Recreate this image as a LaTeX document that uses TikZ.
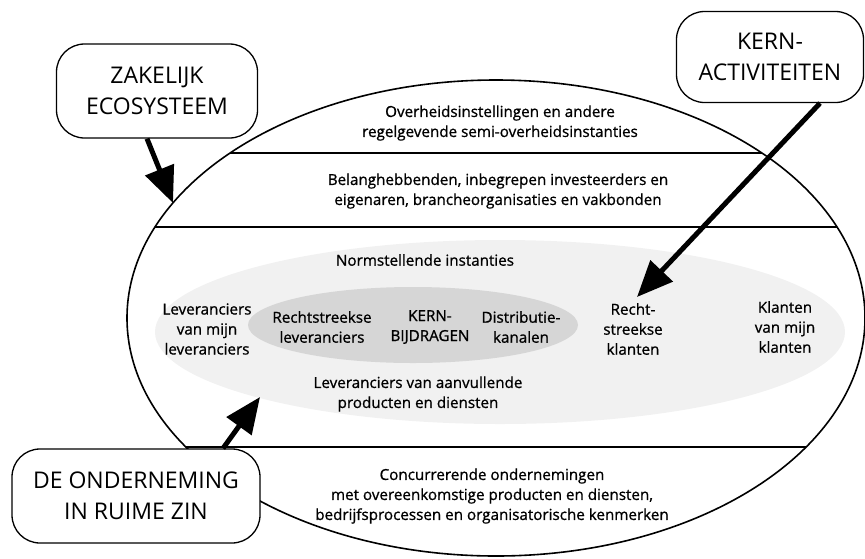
\documentclass[tikz,border=0pt]{standalone}
\usepackage{fontspec}
\setmainfont{Open Sans}
\newfontfamily\bandfont[FakeBold=0.9]{Open Sans}
\usetikzlibrary{arrows.meta}
\begin{document}
\begin{tikzpicture}[x=1pt,y=-1pt,
  txt/.style={align=center, font=\bandfont\fontsize{15.2}{20}\selectfont, inner sep=0pt},
  callout/.style={draw, line width=1.3pt, rounded corners=28pt, fill=white,
    align=center, inner sep=0pt, font=\fontsize{23}{31}\selectfont},
  pointer/.style={line width=5pt, -{Triangle[length=36pt,width=30pt]}},
  divider/.style={line width=1.6pt}]
\useasboundingbox (0,0) rectangle (865,558);

% shaded zones of the inner environment
\fill[gray!11] (500,332) ellipse [x radius=345, y radius=92];
\fill[gray!32] (413,325) ellipse [x radius=165, y radius=38];

% horizontal bands, kept inside the outer ellipse
\begin{scope}
  \clip (496,318) ellipse [x radius=369, y radius=238];
  \draw[divider] (0,153) -- (865,153);
  \draw[divider] (0,227) -- (865,227);
  \draw[divider] (0,447) -- (865,447);
\end{scope}
\draw[line width=1.6pt] (496,318) ellipse [x radius=369, y radius=238];

% texts of the bands
\node[txt] (gov) at (500,123) {Overheidsinstellingen en andere\\regelgevende semi-overheidsinstanties};
\node[txt] (stake) at (498,191) {Belanghebbenden, inbegrepen investeerders en\\eigenaren, brancheorganisaties en vakbonden};
\node[txt] (norm) at (425,260) {Normstellende instanties};
\node[txt] (supsup) at (207,329) {Leveranciers\\van mijn\\leveranciers};
\node[txt] (dirsup) at (322,327) {Rechtstreekse\\leveranciers};
\node[txt] (core) at (430,327) {KERN-\\BIJDRAGEN};
\node[txt] (distr) at (521,327) {Distributie-\\kanalen};
\node[txt] (dircust) at (633,329) {Recht-\\streekse\\klanten};
\node[txt] (custcust) at (785,327) {Klanten\\van mijn\\klanten};
\node[txt] (compl) at (418,394) {Leveranciers van aanvullende\\producten en diensten};
\node[txt] (comp) at (492,496) {Concurrerende ondernemingen\\met overeenkomstige producten en diensten,\\bedrijfsprocessen en organisatorische kenmerken};

% callouts
\node[callout, minimum width=201pt, minimum height=94pt] (eco) at (157,91) {ZAKELIJK\\ECOSYSTEEM};
\node[callout, minimum width=187pt, minimum height=91pt] (kern) at (770,57) {KERN-\\ACTIVITEITEN};
\node[callout, minimum width=248pt, minimum height=94pt] (firm) at (136,496) {DE ONDERNEMING\\IN RUIME ZIN};

% arrow targets
\coordinate (ecoTip) at (173,203);
\coordinate (kernTip) at (637,297);
\coordinate (firmTip) at (260,397);

\draw[pointer] ([xshift=-10pt]eco.south) -- (ecoTip);
\draw[pointer] ([xshift=50pt]kern.south) -- (kernTip);
\draw[pointer] ([xshift=87pt]firm.north) -- (firmTip);
\end{tikzpicture}
\end{document}
